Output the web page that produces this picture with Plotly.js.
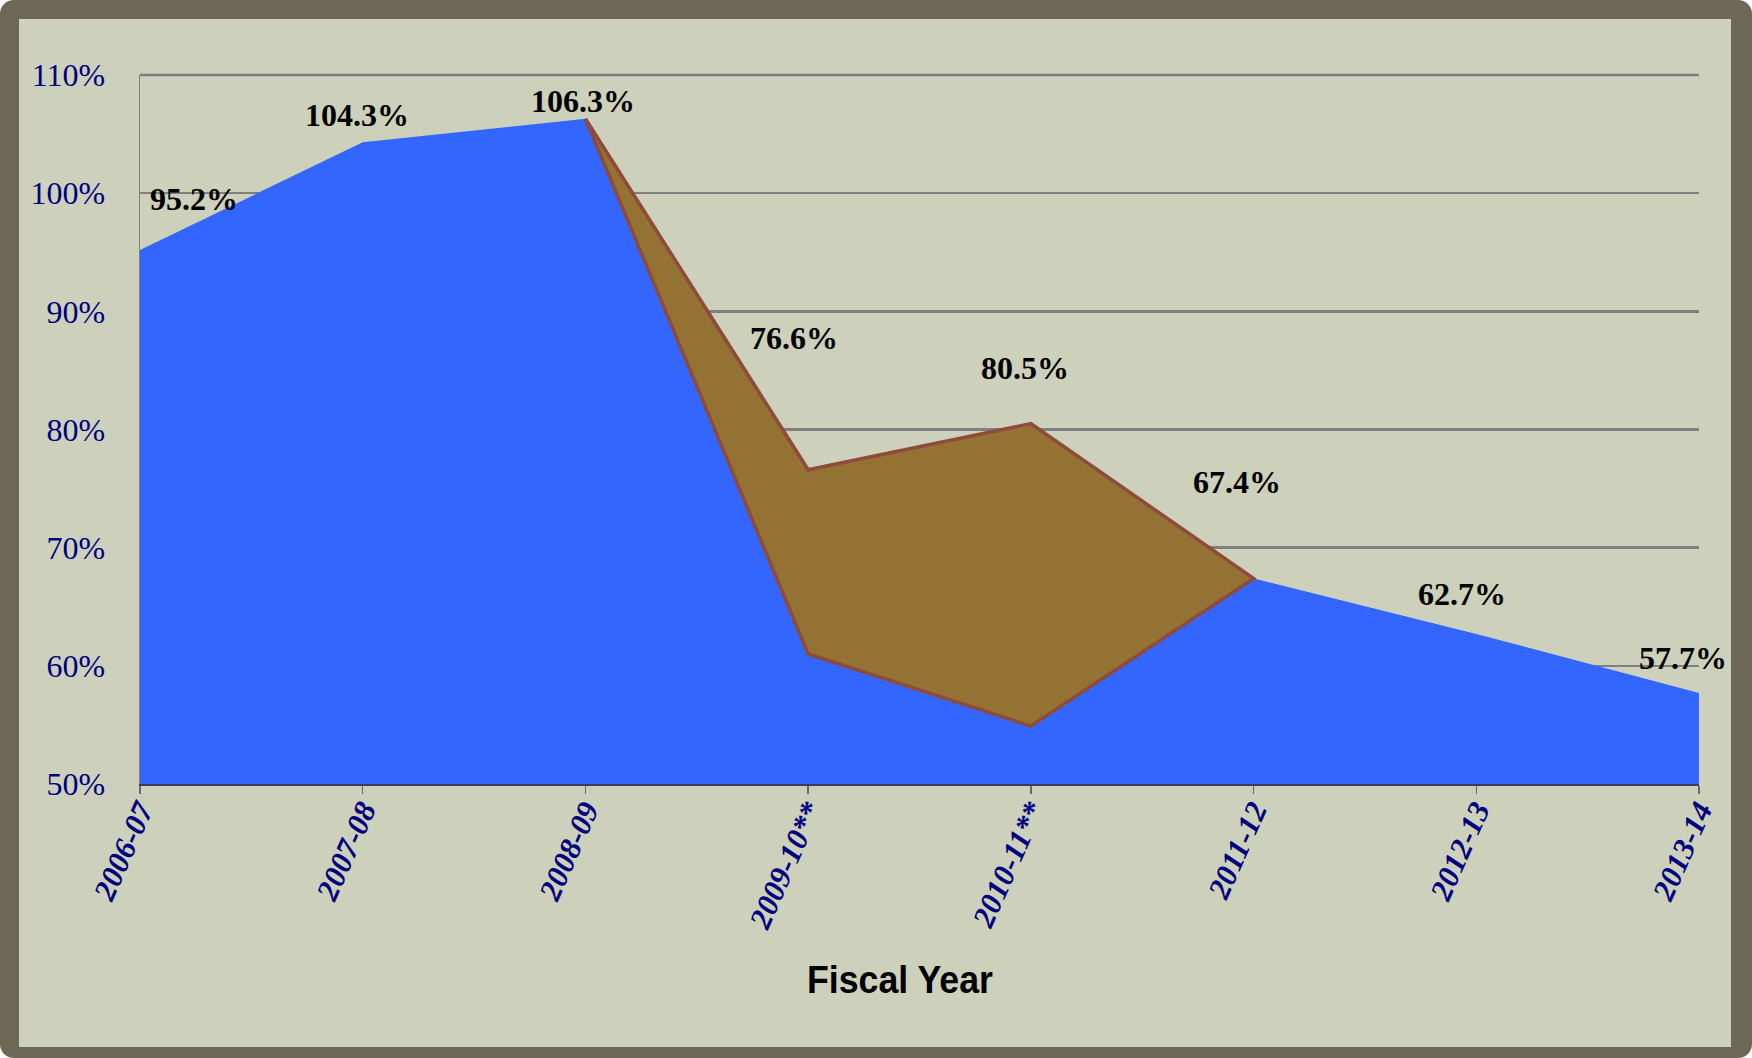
<!DOCTYPE html>
<html>
<head>
<meta charset="utf-8">
<script src="https://cdn.plot.ly/plotly-3.0.1.min.js"></script>
<style>
  html, body { margin: 0; padding: 0; background: #ffffff; }
  #frame { position: absolute; left: 0; top: 0; width: 1752px; height: 1058px; background: #6d6755; border-radius: 14px; }
  #inner { position: absolute; left: 19px; top: 19px; width: 1712px; height: 1028px; background: #cdd1bb; }
  #chart { position: absolute; left: 0; top: 0; width: 1752px; height: 1058px; }
</style>
</head>
<body>
<div id="frame"></div>
<div id="inner"></div>
<div id="chart"></div>
<script>
// ---- data ----
const fiscalYears = ['2006-07', '2007-08', '2008-09', '2009-10**', '2010-11**', '2011-12', '2012-13', '2013-14'];
const baseRatio = [95.2, 104.3, 106.3, 61.0, 54.9, 67.4, 62.7, 57.7];
const reportedRatio = [95.2, 104.3, 106.3, 76.6, 80.5, 67.4, 62.7, 57.7];
const yTickValues = [50, 60, 70, 80, 90, 100, 110];
const xAxisTitle = 'Fiscal Year';

// ---- label placement (pixel offsets, style only) ----
const labelShiftX = [54, -6, -2, -14, -6, -17, -14, -16];
const labelShiftY = [51, 27, 18, 132, 56, 96, 40, 35];

// brown band: range where reported differs from base, plus its neighbours
const diffIdx = reportedRatio.map((v, i) => v !== baseRatio[i] ? i : -1).filter(i => i >= 0);
const first = Math.max(0, diffIdx[0] - 1);
const last = Math.min(reportedRatio.length - 1, diffIdx[diffIdx.length - 1] + 1);
const bandX = fiscalYears.slice(first, last + 1).concat(fiscalYears.slice(first, last + 1).reverse());
const bandY = reportedRatio.slice(first, last + 1).concat(baseRatio.slice(first, last + 1).reverse());

const traces = [
  {
    type: 'scatter', mode: 'lines', x: fiscalYears, y: baseRatio,
    fill: 'tozeroy', fillcolor: '#3366ff',
    line: { color: '#3366ff', width: 0 }, hoverinfo: 'skip', showlegend: false
  },
  {
    type: 'scatter', mode: 'lines', x: bandX, y: bandY,
    fill: 'toself', fillcolor: '#937233',
    line: { color: '#8e4a3a', width: 3.5 }, hoverinfo: 'skip', showlegend: false
  }
];

const annotations = fiscalYears.map((c, i) => ({
  x: c, y: reportedRatio[i], xref: 'x', yref: 'y',
  text: reportedRatio[i].toFixed(1) + '%', showarrow: false,
  xshift: labelShiftX[i], yshift: labelShiftY[i],
  font: { family: 'Liberation Serif, Times New Roman, serif', size: 32, color: '#000000', weight: 700 }
}));
annotations.push({
  xref: 'paper', yref: 'paper', x: 0.4875, y: -0.277, xanchor: 'center', yanchor: 'middle', showarrow: false,
  text: '<b>' + xAxisTitle + '</b>',
  font: { family: 'Liberation Sans, Arial, sans-serif', size: 38, color: '#000000' }
});

// top gridline at the upper range edge (Plotly drops the edge gridline)
const topGrid = {
  type: 'line', xref: 'paper', yref: 'paper', x0: 0, x1: 1, y0: 1, y1: 1,
  line: { color: '#7f7f7f', width: 2.5 }, layer: 'below'
};

const layout = {
  width: 1752, height: 1058,
  paper_bgcolor: 'rgba(0,0,0,0)', plot_bgcolor: 'rgba(0,0,0,0)',
  margin: { l: 140, r: 53, t: 75, b: 274 },
  showlegend: false,
  xaxis: {
    type: 'category', range: [0, fiscalYears.length - 1],
    tickmode: 'array', tickvals: fiscalYears, ticktext: fiscalYears.map(s => '<b><i>' + s + '</i></b>'),
    showgrid: false, zeroline: false,
    showline: true, linecolor: '#3c3c5a', linewidth: 2,
    ticks: 'outside', ticklen: 8, tickcolor: '#6a6a6a', tickwidth: 1.5,
    tickangle: -66, ticklabelstandoff: -14,
    tickfont: { family: 'Liberation Serif, Times New Roman, serif', size: 31, color: '#00007f' }
  },
  yaxis: {
    range: [50, 110], tickvals: yTickValues, ticktext: yTickValues.map(v => v + '%'),
    showgrid: true, gridcolor: '#7f7f7f', gridwidth: 2.5,
    zeroline: false, showline: true, linecolor: '#7f7f7f', linewidth: 1.5,
    ticks: '', ticklabelstandoff: 27,
    tickfont: { family: 'Liberation Serif, Times New Roman, serif', size: 32, color: '#00007f' }
  },
  shapes: [topGrid],
  annotations: annotations
};

Plotly.newPlot('chart', traces, layout, { displayModeBar: false, staticPlot: true }).then(() => {
  // condense the axis title horizontally to mimic the narrow bold face of the original
  document.querySelectorAll('#chart .annotation-text').forEach(t => {
    if (t.textContent === xAxisTitle) {
      t.setAttribute('textLength', '186');
      t.setAttribute('lengthAdjust', 'spacingAndGlyphs');
    }
  });
});
</script>
</body>
</html>
